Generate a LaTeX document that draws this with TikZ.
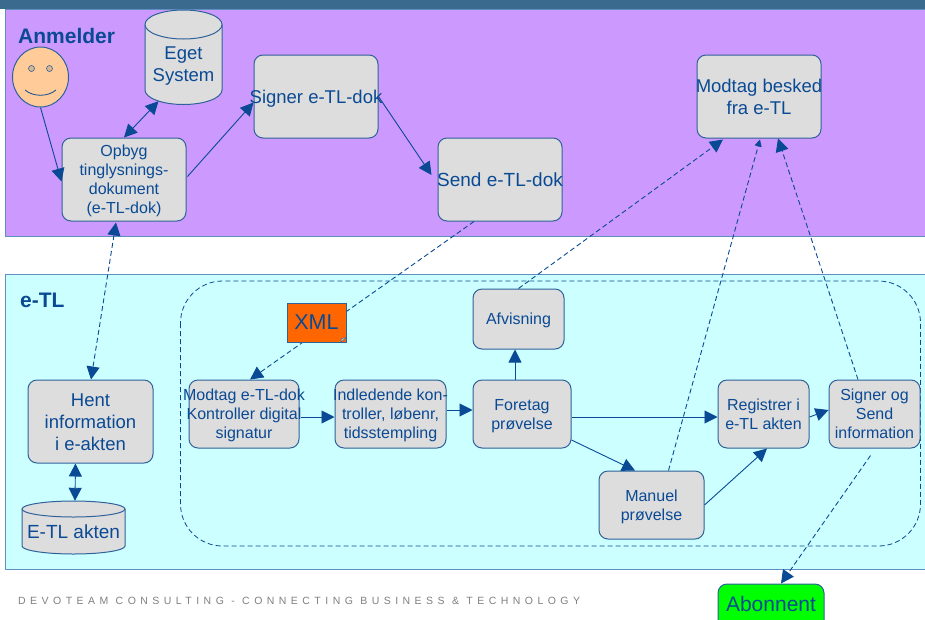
\documentclass[tikz,border=0pt]{standalone}
\usepackage{fontspec}
\setmainfont{Liberation Sans}
\usetikzlibrary{shapes.geometric,arrows.meta,calc}
\definecolor{ink}{HTML}{0A4A94}
\definecolor{edge}{HTML}{2F6299}
\definecolor{boxgrey}{HTML}{DDDDDD}
\definecolor{lilac}{HTML}{CC99FF}
\definecolor{pale}{HTML}{CCFFFF}
\definecolor{topbar}{HTML}{3B6A8F}
\definecolor{face}{HTML}{FFCC99}
\definecolor{band}{HTML}{5F8FBF}
\tikzset{
  x=1pt,y=-1pt,
  proc/.style={draw=edge,line width=1pt,fill=boxgrey,rounded corners=9pt,text=ink,inner sep=0pt,font=\fontsize{16}{19}\selectfont,anchor=center},
  big/.style={font=\fontsize{18.5}{22}\selectfont},
  cylface/.style={draw=edge,line width=1pt,fill=boxgrey},
  cyltext/.style={text=ink,inner sep=0pt},
  conn/.style={draw=ink,line width=0.9pt,-{Triangle[length=13pt,width=13pt]}},
  both/.style={draw=ink,line width=0.9pt,{Triangle[length=13pt,width=13pt]}-{Triangle[length=13pt,width=13pt]}},
  dashline/.style={dash pattern=on 5pt off 3pt},
  lane/.style={draw=band,line width=1pt},
  lanetitle/.style={text=ink,font=\fontsize{21}{24}\selectfont\bfseries,anchor=west,inner sep=0pt}
}
\newcommand{\ctext}[2][2.5pt]{\smash{\raisebox{\dimexpr-0.25em-#1\relax}{\makebox[0pt]{\begin{tabular}{@{}c@{}}#2\end{tabular}}}}}
\newcommand{\boxnode}[7][]{\node[proc,#1,minimum width=#4pt-#2pt,minimum height=#5pt-#3pt] (#6) at ({(#2+#4)/2},{(#3+#5)/2}) {\ctext{#7}};}
\begin{document}
\begin{tikzpicture}
\useasboundingbox (0,0) rectangle (925,619);
\fill[white] (0,0) rectangle (925,619);
\fill[topbar] (0,0) rectangle (925,9);
\draw[lane,fill=lilac] (5.5,9.5) rectangle (926,236);
\draw[lane,fill=pale] (5.5,274.5) rectangle (926,569);
\draw[draw=ink,line width=0.8pt,dashline,rounded corners=42pt] (180.5,281) rectangle (920.5,546);
\node[lanetitle] (anm) at (18,36) {Anmelder};
\node[lanetitle] (etl) at (20,300) {e-TL};
% smiley
\node[ellipse,draw=edge,line width=1pt,fill=face,minimum width=56pt,minimum height=60pt,inner sep=0pt] (smiley) at (40.5,77) {};
\node[circle,draw=edge,line width=.6pt,fill=face!70!gray,minimum size=6pt,inner sep=0pt] (eyeL) at (31.5,68.5) {};
\node[circle,draw=edge,line width=.6pt,fill=face!70!gray,minimum size=6pt,inner sep=0pt] (eyeR) at (49.5,68.5) {};
\draw[ink,line width=.8pt] (25,90) .. controls (33,97) and (48,97) .. (56,90);
% cylinders
\draw[cylface] (145,24.5) -- (145,90) arc[x radius=38.5,y radius=-14.5,start angle=180,end angle=360] -- (222,24.5) arc[x radius=38.5,y radius=-14.5,start angle=0,end angle=180] -- cycle;
\draw[cylface] (145,24.5) arc[x radius=38.5,y radius=-14.5,start angle=180,end angle=360];
\node[cyltext,font=\fontsize{18.5}{22}\selectfont,minimum width=77pt,minimum height=95pt] (eget) at (183.5,57.5) {\ctext[8.5pt]{Eget\\System}};
\draw[cylface] (22,509) -- (22,546) arc[x radius=51.5,y radius=-8,start angle=180,end angle=360] -- (125,509) arc[x radius=51.5,y radius=-8,start angle=0,end angle=180] -- cycle;
\draw[cylface] (22,509) arc[x radius=51.5,y radius=-8,start angle=180,end angle=360];
\node[cyltext,font=\fontsize{19}{22}\selectfont,minimum width=103pt,minimum height=53pt] (etlakt) at (73.5,527.5) {\ctext[6.5pt]{E-TL akten}};
% boxes
\boxnode{62}{138}{186}{221}{opbyg}{Opbyg\\tinglysnings-\\dokument\\(e-TL-dok)}
\boxnode[big]{254}{55}{378}{138}{signer}{Signer e-TL-dok}
\boxnode[font=\fontsize{19}{22}\selectfont]{438}{138}{562}{221}{send}{Send e-TL-dok}
\boxnode[big]{697}{55}{821}{138}{modbesked}{Modtag besked\\fra e-TL}
\boxnode{473}{289}{564}{349}{afvis}{Afvisning}
\boxnode{189}{380}{299}{448}{modtag}{Modtag e-TL-dok\\Kontroller digital\\signatur}
\boxnode{335}{380}{446}{448}{indled}{Indledende kon-\\troller, løbenr,\\tidsstempling}
\boxnode{473}{380}{571}{448}{foretag}{Foretag\\prøvelse}
\boxnode{718}{380}{809}{448}{regist}{Registrer i\\e-TL akten}
\boxnode{829}{380}{920}{448}{signog}{Signer og\\Send\\information}
\boxnode{599}{471}{704}{539}{manuel}{Manuel\\prøvelse}
\boxnode[big]{28}{380}{153}{463}{hent}{Hent\\information\\i e-akten}
\begin{scope}
\clip (0,0) rectangle (925,619);
\node[proc,font=\fontsize{21}{24}\selectfont,fill=green,minimum width=106pt,minimum height=46pt] (abon) at (771,607) {\ctext[0pt]{Abonnent}};
\end{scope}
% connectors
\draw[conn] (smiley.south) -- ($(opbyg.west)+(0,2)$);
\draw[both] (opbyg.north) -- ($(eget.south)+(-25,-4)$);
\draw[conn] ($(opbyg.east)+(1,-3)$) -- ($(signer.west)+(0,6)$);
\draw[conn] ($(signer.east)+(0,0)$) -- ($(send.west)+(-6,-4.5)$);
\draw[both,dashline] ($(opbyg.south)+(-8,1)$) -- ($(hent.north)+(0.5,0)$);
\draw[conn,dashline] ($(send.south)+(-26,0)$) -- ($(modtag.north)+(6,0)$);
\draw[conn,dashline] ($(afvis.north)+(0,0)$) -- ($(modbesked.south)+(-36,1)$);
\draw[draw=ink,line width=.9pt,dashline,-{Triangle[length=7pt,width=7pt]}] ($(manuel.north)+(17,0)$) -- ($(modbesked.south)+(1,1)$);
\draw[conn,dashline] ($(signog.north)+(-16.5,0)$) -- ($(modbesked.south)+(19,0)$);
\draw[conn,dashline] ($(signog.south)+(-4,7)$) -- ($(abon.north)+(10,0)$);
\draw[conn] ($(modtag.east)+(1,3)$) -- ($(indled.west)+(0,3)$);
\draw[conn] ($(indled.east)+(0,-4)$) -- ($(foretag.west)+(0,-4)$);
\draw[conn] ($(foretag.north)+(-7,0)$) -- ($(afvis.south)+(-3.5,0)$);
\draw[conn] ($(foretag.east)+(0,3)$) -- ($(regist.west)+(0,3)$);
\draw[conn] ($(foretag.east)+(0,26)$) -- ($(manuel.north)+(-16.5,0)$);
\draw[conn] (manuel.east) -- ($(regist.south)+(3.5,0)$);
\draw[conn] ($(regist.east)+(0,3)$) -- ($(signog.west)+(0,-4)$);
\draw[both] ($(hent.south)+(-15,0)$) -- ($(etlakt.north)+(1.5,0)$);
% XML note above the dashed line
\node[draw=edge,line width=1pt,fill=orange!80!red,text=ink,font=\fontsize{21.5}{24}\selectfont,minimum width=59pt,minimum height=39pt,inner sep=0pt] (xml) at (316.5,322.5) {XML};
\fill[boxgrey!70!orange,draw=edge,line width=.5pt] ($(xml.south east)+(-6,0)$) -- ($(xml.south east)+(0,-5)$) -- ($(xml.south east)+(-5,-4)$) -- cycle;
% footer
\node[anchor=west,inner sep=0pt,text=gray,font=\fontsize{10.5}{12}\selectfont\addfontfeatures{LetterSpace=42.5}] (foot) at (18,600.5) {DEVOTEAM CONSULTING - CONNECTING BUSINESS \& TECHNOLOGY};
\end{tikzpicture}
\end{document}
